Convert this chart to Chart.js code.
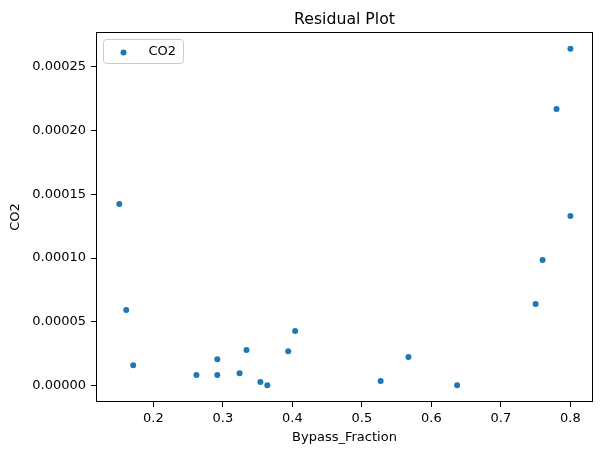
<!DOCTYPE html>
<html>
<head>
<meta charset="utf-8">
<title>Residual Plot</title>
<script src="https://cdn.jsdelivr.net/npm/chart.js@4.4.0/dist/chart.umd.min.js"></script>
<style>
  body { margin: 0; background: #ffffff; }
  #wrap { width: 602px; height: 455px; }
</style>
</head>
<body>
<div id="wrap"><canvas id="residual_chart" width="602" height="455"></canvas></div>
<script>
// values
var bypassFraction = [0.151, 0.161, 0.171, 0.262, 0.292, 0.292, 0.324, 0.334, 0.354, 0.364,
                      0.394, 0.404, 0.527, 0.567, 0.637, 0.750, 0.760, 0.780, 0.800, 0.800];
var co2Residual = [0.0001424, 0.0000592, 0.0000160, 0.0000082, 0.0000207, 0.0000082, 0.0000097, 0.0000278, 0.0000027, 0.0000003,
                   0.0000270, 0.0000427, 0.0000035, 0.0000223, 0.0000003, 0.0000639, 0.0000984, 0.0002170, 0.0002641, 0.0001330];
var xTicks = [0.2, 0.3, 0.4, 0.5, 0.6, 0.7, 0.8];
var yTicks = [0, 0.00005, 0.0001, 0.00015, 0.0002, 0.00025];
var xLimits = [0.1175, 0.8325];
var yLimits = [-0.0000129, 0.0002773];
var seriesName = "CO2";

var blue = "#1f77b4";
var fontFamily = "'DejaVu Sans', sans-serif";

var points = [];
for (var i = 0; i < bypassFraction.length; i++) {
    points.push({ x: bypassFraction[i], y: co2Residual[i] });
}

// frame, title and the legend box inside the axes
var decorations = {
    id: "decorations",
    afterDraw: function (chart) {
        var ctx = chart.ctx;
        var a = chart.chartArea;
        ctx.save();

        ctx.strokeStyle = "#000000";
        ctx.lineWidth = 1;
        ctx.strokeRect(Math.round(a.left) + 0.5, Math.round(a.top) + 0.5,
            Math.round(a.right - a.left) - 1, Math.round(a.bottom - a.top) - 1);

        ctx.fillStyle = "#000000";
        ctx.font = "15.7px " + fontFamily;
        ctx.textAlign = "center";
        ctx.textBaseline = "alphabetic";
        ctx.fillText("Residual Plot", (a.left + a.right) / 2, a.top - 8);

        // legend
        var lx = a.left + 7.5, ly = a.top + 7.5, lw = 80, lh = 24, r = 3;
        ctx.beginPath();
        ctx.moveTo(lx + r, ly);
        ctx.arcTo(lx + lw, ly, lx + lw, ly + lh, r);
        ctx.arcTo(lx + lw, ly + lh, lx, ly + lh, r);
        ctx.arcTo(lx, ly + lh, lx, ly, r);
        ctx.arcTo(lx, ly, lx + lw, ly, r);
        ctx.closePath();
        ctx.fillStyle = "rgba(255,255,255,0.8)";
        ctx.fill();
        ctx.strokeStyle = "#cccccc";
        ctx.stroke();

        ctx.beginPath();
        ctx.arc(lx + 20, ly + 13, 3, 0, Math.PI * 2);
        ctx.fillStyle = blue;
        ctx.fill();

        ctx.fillStyle = "#000000";
        ctx.font = "13px " + fontFamily;
        ctx.textAlign = "left";
        ctx.textBaseline = "middle";
        ctx.fillText(seriesName, lx + 45, ly + 12.5);

        ctx.restore();
    }
};

var canvas = document.getElementById("residual_chart");

var chart = new Chart(canvas, {
    type: "scatter",
    data: {
        datasets: [{
            label: seriesName,
            data: points,
            backgroundColor: blue,
            borderColor: blue,
            pointRadius: 3,
            pointBorderWidth: 0,
            pointHoverRadius: 3
        }]
    },
    options: {
        responsive: false,
        animation: false,
        devicePixelRatio: 1,
        layout: {
            padding: { left: 0, right: 9, top: 32, bottom: 0 }
        },
        plugins: {
            legend: { display: false },
            title: { display: false },
            tooltip: { enabled: false }
        },
        scales: {
            x: {
                type: "linear",
                min: xLimits[0],
                max: xLimits[1],
                afterBuildTicks: function (scale) {
                    scale.ticks = xTicks.map(function (v) { return { value: v }; });
                },
                afterFit: function (scale) { scale.height = 53; },
                grid: {
                    display: true,
                    drawOnChartArea: false,
                    drawTicks: true,
                    tickLength: 5,
                    tickColor: "#000000"
                },
                border: { display: false },
                ticks: {
                    color: "#000000",
                    padding: 4,
                    maxRotation: 0,
                    font: { family: fontFamily, size: 13 },
                    callback: function (v) { return v.toFixed(1); }
                },
                title: {
                    display: true,
                    text: "Bypass_Fraction",
                    color: "#000000",
                    font: { family: fontFamily, size: 13 },
                    padding: { top: 0, bottom: 10 }
                }
            },
            y: {
                type: "linear",
                min: yLimits[0],
                max: yLimits[1],
                afterBuildTicks: function (scale) {
                    scale.ticks = yTicks.map(function (v) { return { value: v }; });
                },
                afterFit: function (scale) { scale.width = 96; },
                grid: {
                    display: true,
                    drawOnChartArea: false,
                    drawTicks: true,
                    tickLength: 5,
                    tickColor: "#000000"
                },
                border: { display: false },
                ticks: {
                    color: "#000000",
                    padding: 5,
                    font: { family: fontFamily, size: 13 },
                    callback: function (v) { return v.toFixed(5); }
                },
                title: {
                    display: true,
                    text: "CO2",
                    color: "#000000",
                    font: { family: fontFamily, size: 13 },
                    padding: { top: 8, bottom: 0 }
                }
            }
        }
    },
    plugins: [decorations]
});
</script>
</body>
</html>
